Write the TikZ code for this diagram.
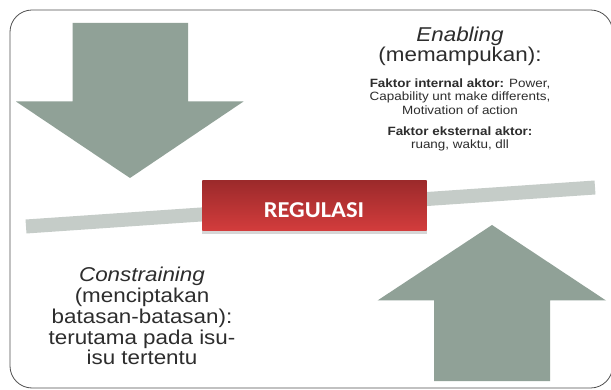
\documentclass[tikz,border=0pt]{standalone}
\usepackage{fontspec}
\setmainfont{Liberation Sans}
\newfontfamily\calib{Carlito}
\definecolor{arrowgray}{RGB}{144,161,151}
\definecolor{bargray}{RGB}{197,204,200}
\definecolor{framegray}{RGB}{80,80,80}
\definecolor{redtop}{RGB}{156,42,43}
\definecolor{redbot}{RGB}{210,60,60}
\definecolor{shadowgray}{RGB}{214,214,214}
\definecolor{txt}{RGB}{45,45,45}
\tikzset{
  bigarrow/.style={fill=arrowgray, draw=none},
  bigtext/.style={font=\fontsize{20}{20.7}\selectfont, text=txt, align=center, inner sep=0pt, anchor=north, xscale=1.12},
  smalltext/.style={font=\fontsize{12}{13.5}\selectfont, text=txt, align=center, inner sep=0pt, anchor=north, xscale=1.12},
}
\begin{document}
\begin{tikzpicture}[x=1pt,y=-1pt]
\useasboundingbox[fill=white] (0,0) rectangle (611,390);
% frame
\draw[framegray, line width=0.8pt, rounded corners=22pt] (10,10) rectangle (612.6,388);
% bar
\draw[bargray, line width=14pt] (26,226.5) coordinate (barl) -- (595,187.5) coordinate (barr);
% down arrow
\fill[bigarrow] (72.5,23) -- (188,23) -- (188,101.5) -- (243.5,101.5) -- (130,178) -- (16,101.5) -- (72.5,101.5) -- cycle;
% up arrow
\fill[bigarrow] (434,381) -- (550,381) -- (550,300.5) -- (606,300.5) -- (492,225) -- (377.5,300.5) -- (434,300.5) -- cycle;
% regulasi box
\fill[shadowgray] (202.3,225) rectangle (426.7,234);
\node[rectangle, inner sep=0pt, minimum width=224.4pt, minimum height=49.3pt, top color=redtop, bottom color=redbot, draw=none] (reg) at (314.5,205.4) {};
\node[font=\calib\bfseries\fontsize{22.7}{24}\selectfont, text=white, inner sep=0pt, anchor=base, xscale=1.08] (regtxt) at (314,217.3) {REGULASI};
% texts
\node[bigtext] (enab) at (460,26.5) {\textit{Enabling}\\(memampukan):};
\node[smalltext] (intl) at (460,78.4) {\textbf{Faktor internal aktor:} Power,\\Capability unt make differents,\\Motivation of action};
\node[smalltext] (extl) at (460,126.2) {\textbf{Faktor eksternal aktor:}\\ruang, waktu, dll};
\node[bigtext] (cons) at (142,267.3) {\textit{Constraining}\\(menciptakan\\batasan-batasan):\\terutama pada isu-\\isu tertentu};
\end{tikzpicture}
\end{document}
